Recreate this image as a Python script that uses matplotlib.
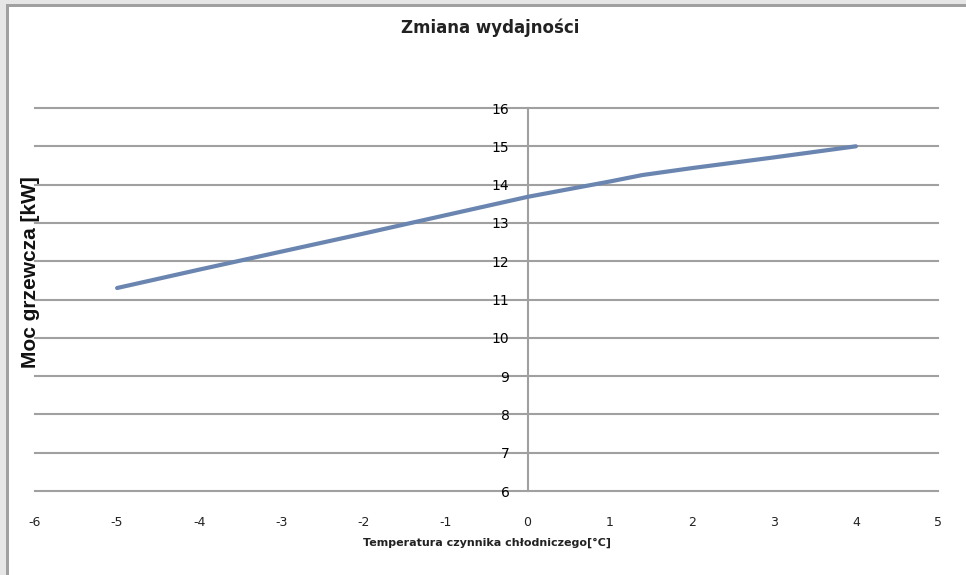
import matplotlib
matplotlib.use("Agg")
import matplotlib.pyplot as plt
from matplotlib.patches import Rectangle

# Data
temperatures = [-5, -4, -3, -2, -1, 0, 1, 1.4, 2, 3, 4]
power_kw = [11.3, 11.78, 12.25, 12.72, 13.2, 13.68, 14.08, 14.25, 14.43, 14.71, 15.0]
x_ticks = [-6, -5, -4, -3, -2, -1, 0, 1, 2, 3, 4, 5]
y_ticks = [6, 7, 8, 9, 10, 11, 12, 13, 14, 15, 16]

title = "Zmiana wydajności"
x_label = "Temperatura czynnika chłodniczego[°C]"
y_label = "Moc grzewcza [kW]"

W, H = 966, 575
fig = plt.figure(figsize=(W / 100, H / 100), dpi=100)
fig.patch.set_facecolor("white")

# frame strips (top and left)
fig.patches.append(Rectangle((0, 0), 6 / W, 1, transform=fig.transFigure,
                             facecolor="#e6e6e6", edgecolor="none", zorder=0))
fig.patches.append(Rectangle((0, 1 - 4 / H), 1, 4 / H, transform=fig.transFigure,
                             facecolor="#e6e6e6", edgecolor="none", zorder=0))
fig.patches.append(Rectangle((6 / W, 0), 2.5 / W, 1 - 4 / H, transform=fig.transFigure,
                             facecolor="#a0a0a0", edgecolor="none", zorder=1))
fig.patches.append(Rectangle((6 / W, 1 - 6.5 / H), 1, 2.5 / H, transform=fig.transFigure,
                             facecolor="#a0a0a0", edgecolor="none", zorder=1))

left, right, top, bottom = 35, 938, 108, 491
ax = fig.add_axes([left / W, 1 - bottom / H, (right - left) / W, (bottom - top) / H])
ax.set_facecolor("none")

for yv in y_ticks:
    ax.axhline(yv, color="#a0a0a0", linewidth=1.5, clip_on=False, zorder=1)

ax.plot(temperatures, power_kw, color="#6a86b0", linewidth=3.0,
        solid_capstyle="round", zorder=3)

ax.set_xlim(-6, 5)
ax.set_ylim(6, 16)
ax.set_xticks(x_ticks)
ax.set_yticks(y_ticks)
ax.set_xticklabels([str(v) for v in x_ticks], fontsize=9, color="#222222")
ax.set_yticklabels([str(v) for v in y_ticks], fontsize=9.5, color="#222222")

for s in ["top", "right", "bottom"]:
    ax.spines[s].set_visible(False)
ax.spines["left"].set_position(("data", 0))
ax.spines["left"].set_color("#a0a0a0")
ax.spines["left"].set_linewidth(1.5)
ax.spines["left"].set_zorder(1)

ax.tick_params(axis="y", length=0, pad=13)
ax.tick_params(axis="x", length=0, pad=18)

fig.text(490 / W, 1 - 28 / H, title, ha="center", va="center",
         fontsize=12, fontweight="bold", color="#222222")
fig.text(487 / W, 1 - 543 / H, x_label, ha="center", va="center",
         fontsize=8, fontweight="bold", color="#222222")
fig.text(31 / W, 1 - 272 / H, y_label, ha="center", va="center", rotation=90,
         fontsize=15, fontweight="bold", color="#111111",
         family=["Liberation Sans", "DejaVu Sans"])

fig.savefig("out.png", dpi=100, facecolor=fig.get_facecolor())
